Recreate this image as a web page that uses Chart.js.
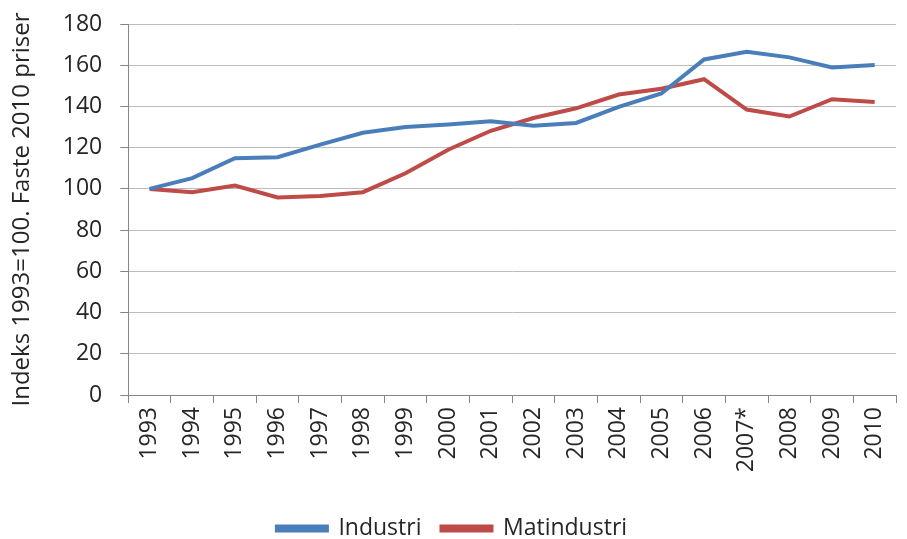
<!DOCTYPE html>
<html lang="no">
<head>
    <meta charset="UTF-8">
    <title>Industri og matindustri</title>
    <script src="https://cdn.jsdelivr.net/npm/chart.js"></script>
    <style>
        html, body { margin: 0; padding: 0; background: #fff; }
        .wrap { width: 907px; height: 539px; }
    </style>
</head>
<body>
    <div class="wrap">
        <canvas id="lineChart" width="907" height="539"></canvas>
    </div>

    <script>
        // Data
        const years = ['1993', '1994', '1995', '1996', '1997', '1998', '1999', '2000', '2001',
                       '2002', '2003', '2004', '2005', '2006', '2007*', '2008', '2009', '2010'];
        const industri = [100, 105.2, 114.9, 115.4, 121.5, 127.2, 130, 131.2, 132.8,
                          130.6, 132, 139.8, 146.3, 162.8, 166.5, 163.8, 158.9, 160.1];
        const matindustri = [100, 98.4, 101.6, 95.8, 96.5, 98.4, 107.6, 119, 128.2,
                             134.4, 139.1, 145.8, 148.6, 153.2, 138.5, 135.1, 143.5, 142.1];
        const yTicks = { min: 0, max: 180, step: 20 };

        const blue = '#4a7ebb';
        const red = '#be4b48';
        const textColor = '#262626';
        const font = "'Open Sans', 'Liberation Sans', sans-serif";

        const ctx = document.getElementById('lineChart').getContext('2d');
        new Chart(ctx, {
            type: 'line',
            data: {
                labels: years,
                datasets: [{
                    label: 'Industri',
                    data: industri,
                    borderColor: blue,
                    backgroundColor: blue,
                    borderWidth: 4,
                    pointRadius: 0,
                    tension: 0
                }, {
                    label: 'Matindustri',
                    data: matindustri,
                    borderColor: red,
                    backgroundColor: red,
                    borderWidth: 4,
                    pointRadius: 0,
                    tension: 0
                }]
            },
            options: {
                responsive: false,
                animation: false,
                // negative bottom padding pushes the legend down near the edge
                layout: { padding: { left: 8, right: 11, top: 0, bottom: -11 } },
                plugins: {
                    tooltip: { enabled: false },
                    legend: {
                        position: 'bottom',
                        labels: {
                            color: textColor,
                            font: { family: font, size: 23 },
                            boxWidth: 50,
                            boxHeight: 4,
                            padding: 20
                        }
                    }
                },
                scales: {
                    x: {
                        offset: true,
                        grid: {
                            offset: true,
                            drawOnChartArea: false,
                            color: '#868686',
                            tickLength: 8
                        },
                        border: { color: '#868686', width: 1 },
                        ticks: {
                            color: textColor,
                            font: { family: font, size: 23 },
                            minRotation: 90,
                            maxRotation: 90,
                            autoSkip: false,
                            padding: 4
                        },
                        afterFit: scale => { scale.height = 102; }
                    },
                    y: {
                        min: yTicks.min,
                        max: yTicks.max,
                        grid: {
                            color: '#bcbcbc',
                            lineWidth: 1,
                            tickLength: 8,
                            tickColor: '#868686'
                        },
                        border: { color: '#868686', width: 1 },
                        ticks: {
                            stepSize: yTicks.step,
                            color: textColor,
                            font: { family: font, size: 23 },
                            padding: 18
                        },
                        title: {
                            display: true,
                            text: 'Indeks 1993=100. Faste 2010 priser',
                            color: textColor,
                            font: { family: font, size: 24 },
                            padding: { top: 0, bottom: 8 }
                        },
                        // tick padding would otherwise also push the plot top down
                        afterFit: scale => { scale.paddingTop = 24; }
                    }
                }
            }
        });
    </script>
</body>
</html>
